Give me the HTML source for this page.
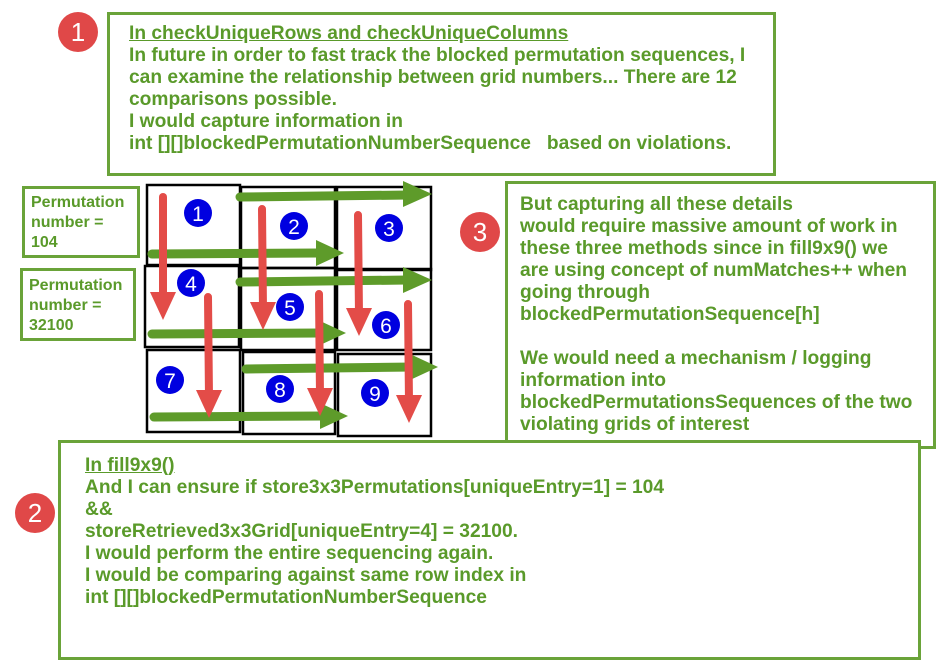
<!DOCTYPE html><html><head><style>
body{margin:0;width:948px;height:621px;background:#fff;position:relative;overflow:hidden;font-family:"Liberation Sans",Arial,sans-serif}
.b{position:absolute;border:3px solid #6aa339;background:#fff;box-sizing:border-box;color:#5a9a2a;font-weight:bold;font-size:19.2px;line-height:22px}
.rc{position:absolute;width:40px;height:40px;border-radius:50%;background:#e04848;color:#fff;font-size:26px;text-align:center;line-height:40px}
</style></head><body>
<div class="b" style="left:107px;top:12px;width:669px;height:164px;padding:8px 0 0 19px"><u>In checkUniqueRows and checkUniqueColumns</u><br>In future in order to fast track the blocked permutation sequences, I can examine the relationship between grid numbers... There are 12 comparisons possible.<br>I would capture information in<br>int [][]blockedPermutationNumberSequence &nbsp; based on violations.</div>
<div class="b" style="left:505px;top:181px;width:431px;height:268px;padding:10px 16px 0 12px">But capturing all these details<br>would require massive amount of work in these three methods since in fill9x9() we are using concept of numMatches++ when going through<br>blockedPermutationSequence[h]<br><br>We would need a mechanism / logging information into<br>blockedPermutationsSequences of the two violating grids of interest</div>
<div class="b" style="left:58px;top:440px;width:863px;height:220px;padding:12px 0 0 24px"><u>In fill9x9()</u><br>And I can ensure if store3x3Permutations[uniqueEntry=1] = 104<br>&amp;&amp;<br>storeRetrieved3x3Grid[uniqueEntry=4] = 32100.<br>I would perform the entire sequencing again.<br>I would be comparing against same row index in<br>int [][]blockedPermutationNumberSequence</div>
<div class="b" style="left:22px;top:186px;width:118px;height:72px;padding:4px 0 0 6px;font-size:16px;line-height:20px">Permutation number =<br>104</div>
<div class="b" style="left:20px;top:268px;width:116px;height:73px;padding:5px 0 0 6px;font-size:16px;line-height:20px">Permutation number =<br>32100</div>
<div class="rc" style="left:58px;top:12px">1</div>
<div class="rc" style="left:460px;top:212px">3</div>
<div class="rc" style="left:15px;top:493px">2</div>
<svg width="948" height="621" style="position:absolute;left:0;top:0">
<g fill="none" stroke="#000" stroke-width="2.5">
<rect x="147" y="185" width="93" height="80"/><rect x="241" y="187" width="94" height="81"/><rect x="337" y="187" width="94" height="83"/>
<rect x="145" y="266" width="94" height="81"/><rect x="241" y="268" width="94" height="82"/><rect x="337" y="269" width="94" height="81"/>
<rect x="147" y="350" width="93" height="82"/><rect x="243" y="352" width="92" height="82"/><rect x="338" y="354" width="93" height="82"/>
</g>
<g fill="#0000e0">
<circle cx="198" cy="213" r="14"/><circle cx="294" cy="226" r="14"/><circle cx="389" cy="228" r="14"/>
<circle cx="191" cy="283" r="14"/><circle cx="290" cy="307" r="14"/><circle cx="386" cy="325" r="14"/>
<circle cx="170" cy="380" r="14"/><circle cx="280" cy="389" r="14"/><circle cx="375" cy="393" r="14"/>
</g>
<g fill="#fff" font-family="Liberation Sans,Arial" font-size="21" text-anchor="middle">
<text x="198" y="221">1</text><text x="294" y="234">2</text><text x="389" y="236">3</text>
<text x="191" y="291">4</text><text x="290" y="315">5</text><text x="386" y="333">6</text>
<text x="170" y="388">7</text><text x="280" y="397">8</text><text x="375" y="401">9</text>
</g>
<g stroke="#5e9b2a" stroke-width="9" stroke-linecap="round">
<line x1="240" y1="197" x2="408" y2="195"/><line x1="152" y1="254" x2="320" y2="253"/>
<line x1="240" y1="282" x2="408" y2="280"/><line x1="152" y1="334" x2="322" y2="333"/>
<line x1="246" y1="369" x2="414" y2="367"/><line x1="154" y1="417" x2="324" y2="416"/>
</g>
<g fill="#5e9b2a">
<polygon points="403,181 432,194 403,207"/><polygon points="316,240 344,253 316,266"/>
<polygon points="403,267 432,280 403,293"/><polygon points="318,320 346,333 318,346"/>
<polygon points="410,354 438,367 410,380"/><polygon points="320,403 348,416 320,429"/>
</g>
<g stroke="#e34c48" stroke-width="8" stroke-linecap="round">
<line x1="163" y1="197" x2="163" y2="300"/><line x1="262" y1="209" x2="263" y2="310"/>
<line x1="358" y1="215" x2="359" y2="316"/><line x1="208" y1="297" x2="209" y2="398"/>
<line x1="319" y1="294" x2="320" y2="396"/><line x1="408" y1="304" x2="409" y2="403"/>
</g>
<g fill="#e34c48">
<polygon points="150,292 176,292 163,320"/><polygon points="250,302 276,302 263,330"/>
<polygon points="346,308 372,308 359,336"/><polygon points="196,390 222,390 209,418"/>
<polygon points="307,388 333,388 320,416"/><polygon points="396,395 422,395 409,423"/>
</g>
</svg>
</body></html>
